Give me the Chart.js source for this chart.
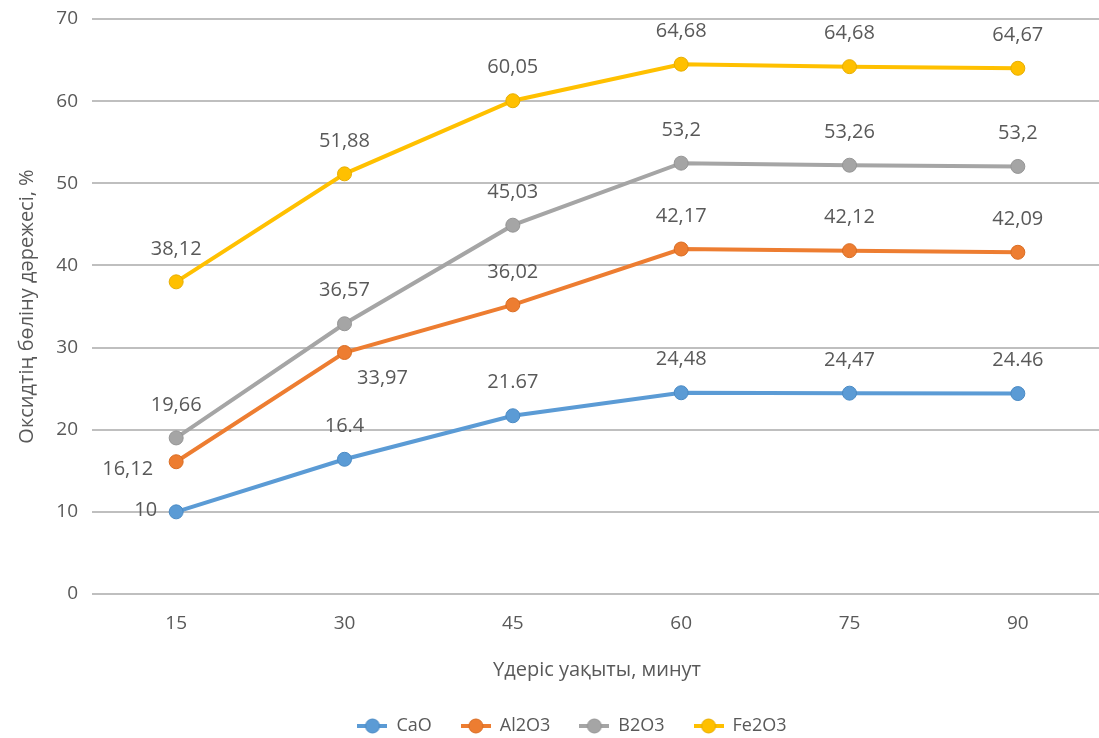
<!DOCTYPE html>
<html><head><meta charset="utf-8">
<script src="https://cdn.jsdelivr.net/npm/chart.js@4"></script>
<style>
html,body{margin:0;padding:0;background:#fff;overflow:hidden;width:1099px;height:738px}
#wrap{width:1110px;height:738px}
</style></head>
<body><div id="wrap"><canvas id="c" width="1110" height="738"></canvas></div>
<script>
// ---- data ----
const categories = ['15', '30', '45', '60', '75', '90'];
const seriesNames = ['CaO', 'Al2O3', 'B2O3', 'Fe2O3'];
const caoValues   = [10.0, 16.4, 21.7, 24.5, 24.45, 24.4];
const al2o3Values = [16.1, 29.4, 35.2, 42.0, 41.8, 41.6];
const b2o3Values  = [19.0, 32.9, 44.9, 52.45, 52.2, 52.05];
const fe2o3Values = [38.0, 51.15, 60.05, 64.5, 64.2, 64.0];
const caoLabels   = ['10', '16.4', '21.67', '24,48', '24,47', '24.46'];
const al2o3Labels = ['16,12', '33,97', '36,02', '42,17', '42,12', '42,09'];
const b2o3Labels  = ['19,66', '36,57', '45,03', '53,2', '53,26', '53,2'];
const fe2o3Labels = ['38,12', '51,88', '60,05', '64,68', '64,68', '64,67'];
const yMin = 0, yMax = 70, yStep = 10;
const yTitle = 'Оксидтің бөліну дәрежесі, %';
const xTitle = 'Үдеріс уақыты, минут';

// ---- styling ----
const colors = ['#5B9BD5', '#ED7D31', '#A5A5A5', '#FFC000'];
const borders = ['#4a8ac4', '#d96c22', '#959595', '#e6ad00'];
const textColor = '#595959';
const FONT = "'Open Sans', 'DejaVu Sans', sans-serif";
// label placements: [dx, dy, align] overrides (default above)
const labelPlacement = {
  '0-0': [-19, -2, 'right'],
  '1-0': [-23, 8, 'right'],
  '1-1': [38, 26, 'center']
};

function legendIcon(color, border) {
  const c = document.createElement('canvas');
  c.width = 30; c.height = 16;
  const g = c.getContext('2d');
  g.strokeStyle = color; g.lineWidth = 4;
  g.beginPath(); g.moveTo(0, 8); g.lineTo(30, 8); g.stroke();
  g.fillStyle = color; g.strokeStyle = border; g.lineWidth = 1;
  g.beginPath(); g.arc(15, 8, 7, 0, Math.PI * 2); g.fill(); g.stroke();
  return c;
}
const icons = colors.map((c, i) => legendIcon(c, borders[i]));

const valueSets = [caoValues, al2o3Values, b2o3Values, fe2o3Values];
const labelSets = [caoLabels, al2o3Labels, b2o3Labels, fe2o3Labels];

const datasets = seriesNames.map((n, i) => ({
  label: n,
  data: valueSets[i],
  borderColor: colors[i],
  backgroundColor: colors[i],
  borderWidth: 4,
  pointRadius: 7,
  pointHoverRadius: 7,
  pointBackgroundColor: colors[i],
  pointBorderColor: borders[i],
  pointBorderWidth: 1,
  tension: 0
}));

const dataLabelPlugin = {
  id: 'dataLabels',
  afterLayout(chart) {
    if (chart.legend) { chart.legend.left += 18; chart.legend.right += 18; }
  },
  afterDatasetsDraw(chart) {
    const ctx = chart.ctx;
    ctx.save();
    ctx.font = '20px ' + FONT;
    ctx.fillStyle = textColor;
    ctx.textBaseline = 'middle';
    chart.data.datasets.forEach((ds, di) => {
      const meta = chart.getDatasetMeta(di);
      meta.data.forEach((pt, i) => {
        const p = labelPlacement[di + '-' + i] || [0, -33, 'center'];
        ctx.textAlign = p[2];
        ctx.fillText(labelSets[di][i], pt.x + p[0], pt.y + p[1]);
      });
    });
    ctx.restore();
  }
};

const PLOT_BOTTOM = 594;
const BOTTOM_PAD = -7;

new Chart(document.getElementById('c'), {
  type: 'line',
  data: { labels: categories, datasets },
  options: {
    responsive: false,
    animation: false,
    layout: { padding: { top: 19, right: 2, left: 0, bottom: BOTTOM_PAD } },
    plugins: {
      tooltip: { enabled: false },
      legend: {
        position: 'bottom',
        labels: {
          usePointStyle: true,
          pointStyleWidth: 30,
          padding: 29,
          color: textColor,
          font: { family: FONT, size: 18 },
          sort: (a, b) => a.datasetIndex - b.datasetIndex,
          generateLabels(chart) {
            const items = Chart.defaults.plugins.legend.labels.generateLabels(chart);
            items.forEach((it) => { it.pointStyle = icons[it.datasetIndex]; });
            return items;
          }
        }
      }
    },
    scales: {
      x: {
        offset: true,
        grid: { display: false, drawTicks: false },
        border: { display: false },
        ticks: { color: textColor, font: { family: FONT, size: 19 }, padding: 18 },
        title: { display: true, text: xTitle, color: textColor, font: { family: FONT, size: 20 }, padding: { top: 0, bottom: 6 } },
        afterFit(scale) {
          scale.height = scale.chart.height - PLOT_BOTTOM - scale.chart.legend.height - BOTTOM_PAD;
          scale.paddingLeft = 0; scale.paddingRight = 0;
        }
      },
      y: {
        min: yMin, max: yMax,
        ticks: { stepSize: yStep, color: textColor, font: { family: FONT, size: 19 }, padding: 14 },
        grid: { color: '#bfbfbf', lineWidth: 2, drawTicks: false },
        border: { display: false },
        title: { display: true, text: yTitle, color: textColor, font: { family: FONT, size: 20 }, padding: { top: 15, bottom: 0 } },
        afterFit(scale) { scale.width = 92; scale.paddingTop = 0; scale.paddingBottom = 0; }
      }
    }
  },
  plugins: [dataLabelPlugin]
});
</script>
</body></html>
